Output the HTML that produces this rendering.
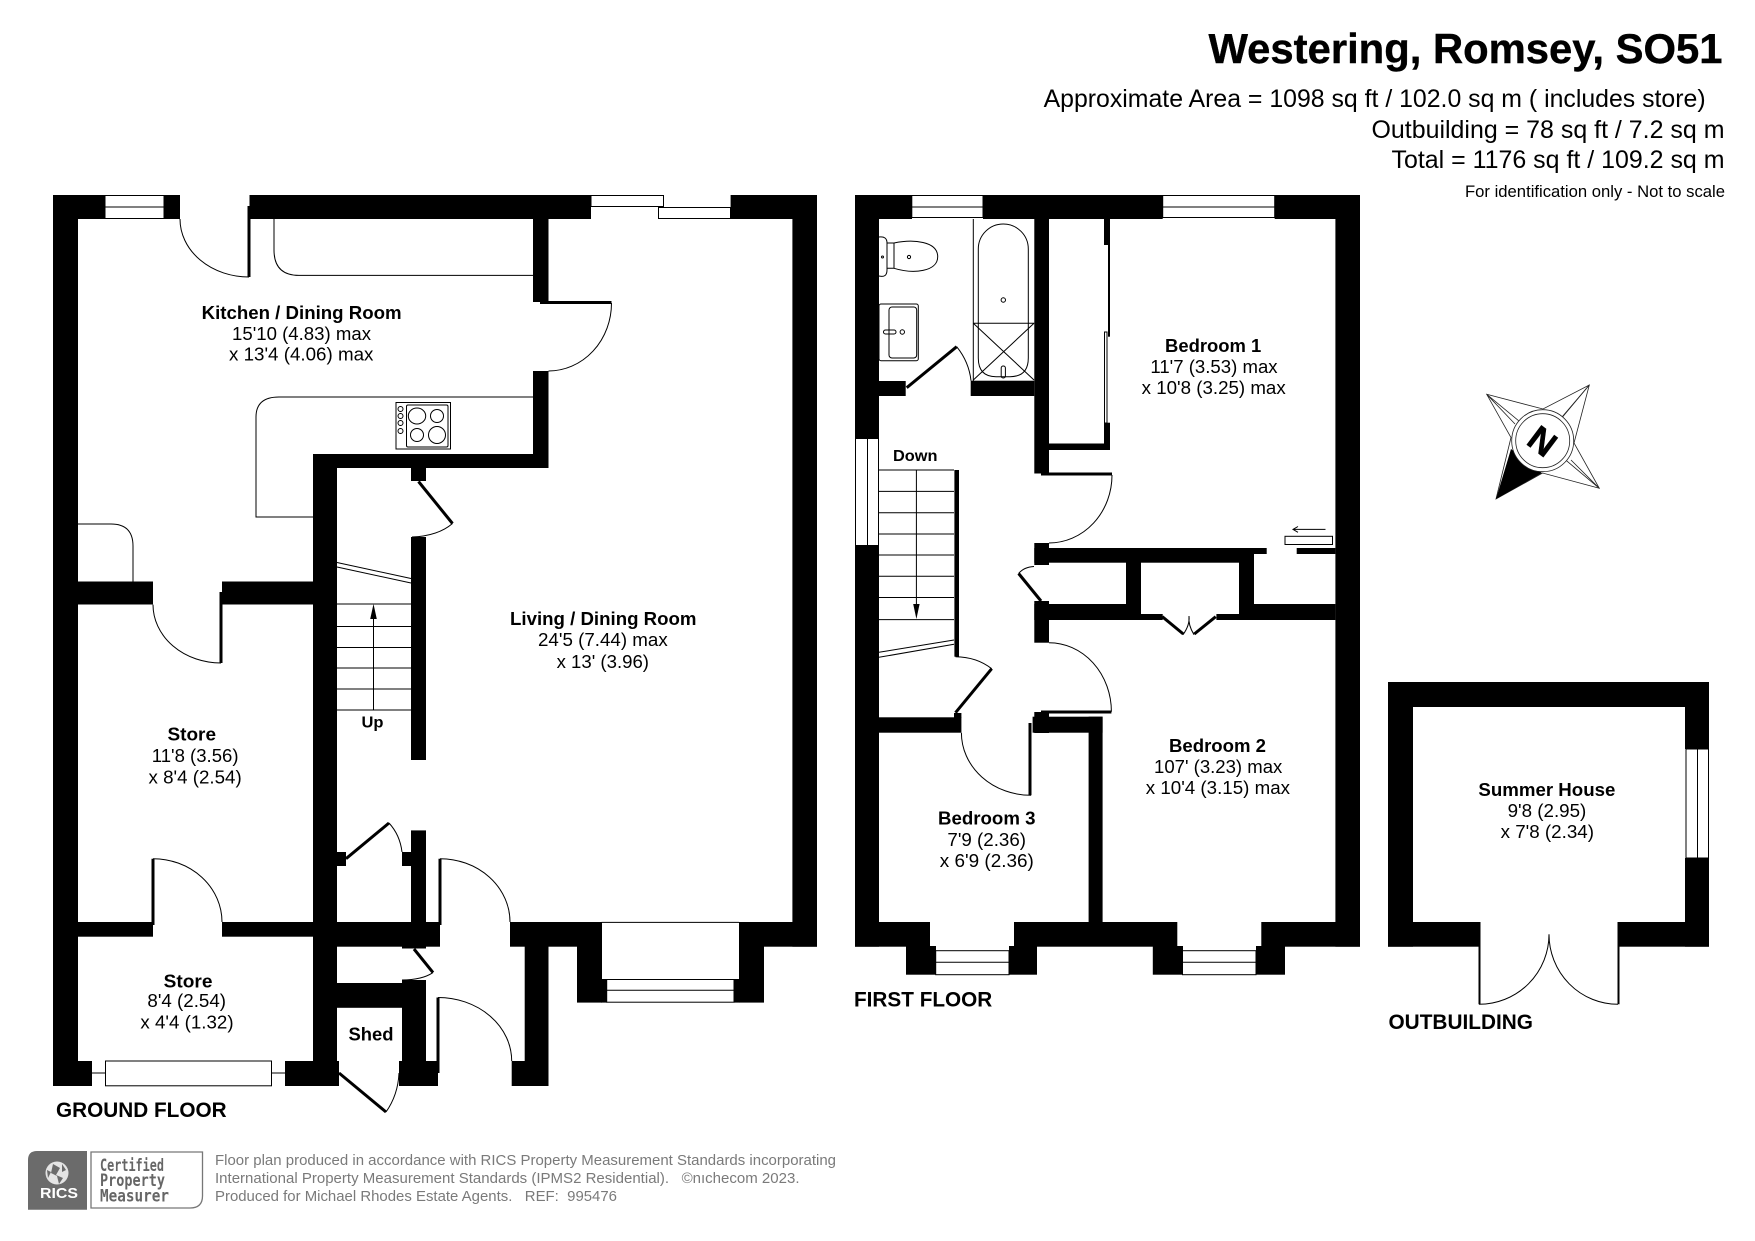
<!DOCTYPE html>
<html><head><meta charset="utf-8"><style>
html,body{margin:0;padding:0;background:#fff}
svg{display:block}
text{font-family:"Liberation Sans",sans-serif;fill:#000}
.b{font-weight:bold;font-size:18px}
.r{font-size:18px}
.t{fill:none;stroke:#000;stroke-width:1}
.l{fill:none;stroke:#000;stroke-width:3}
.g{font-size:14.5px;fill:#7a7a7a}
.c{font-family:"DejaVu Sans Mono","Liberation Mono",monospace;font-weight:bold;font-size:17px;fill:#666}
</style></head><body>
<svg width="1755" height="1241" viewBox="0 0 1755 1241" xmlns="http://www.w3.org/2000/svg">
<rect width="1755" height="1241" fill="#fff"/>
<!-- Header -->
<text x="1208.5" y="63" font-weight="bold" font-size="42" textLength="514" lengthAdjust="spacingAndGlyphs" stroke="#000" stroke-width="0.4">Westering, Romsey, SO51</text>
<text x="1043.6" y="107" font-size="25" textLength="662" lengthAdjust="spacingAndGlyphs">Approximate Area = 1098 sq ft / 102.0 sq m ( includes store)</text>
<text x="1371.5" y="138" font-size="25" textLength="353" lengthAdjust="spacingAndGlyphs">Outbuilding = 78 sq ft / 7.2 sq m</text>
<text x="1391.5" y="168" font-size="25" textLength="333" lengthAdjust="spacingAndGlyphs">Total = 1176 sq ft / 109.2 sq m</text>
<text x="1465" y="197" font-size="17" textLength="260" lengthAdjust="spacingAndGlyphs">For identification only - Not to scale</text>

<!-- GROUND FLOOR walls -->
<g fill="#000">
<rect x="53" y="195" width="25" height="891"/>
<rect x="53" y="195" width="52" height="24"/>
<rect x="164" y="195" width="16" height="24"/>
<rect x="249.5" y="195" width="341.5" height="24"/>
<rect x="730.6" y="195" width="86.4" height="24"/>
<rect x="792.4" y="195" width="24.6" height="751.7"/>
<rect x="533" y="218" width="15.5" height="84"/>
<rect x="533" y="371" width="15.5" height="97"/>
<rect x="313" y="454" width="235.5" height="14"/>
<rect x="313" y="454" width="24" height="632"/>
<rect x="411" y="468" width="15" height="13"/>
<rect x="411" y="537" width="15" height="223"/>
<rect x="411" y="830.4" width="15" height="118"/>
<rect x="402" y="852" width="9" height="14"/>
<rect x="337" y="852" width="9" height="14"/>
<rect x="53" y="581.5" width="100" height="23"/>
<rect x="222" y="581.5" width="91" height="23"/>
<rect x="53" y="922" width="100" height="14.7"/>
<rect x="222" y="922" width="91" height="14.7"/>
<rect x="313" y="922" width="127" height="24.7"/>
<rect x="402" y="946" width="24" height="2.5"/>
<rect x="510" y="922" width="92" height="24.7"/>
<rect x="739" y="922" width="78" height="24.7"/>
<rect x="577" y="946" width="25" height="56.6"/>
<rect x="739" y="946" width="25" height="56.6"/>
<rect x="601" y="979.5" width="5.7" height="23.1"/>
<rect x="734" y="979.5" width="5.4" height="23.1"/>
<rect x="524.7" y="946" width="23.8" height="140"/>
<rect x="511.7" y="1061" width="36.8" height="25"/>
<rect x="337" y="983" width="89" height="24.8"/>
<rect x="402" y="980" width="24" height="4"/>
<rect x="402" y="1007" width="24" height="79"/>
<rect x="399" y="1061" width="39" height="25"/>
<rect x="53" y="1061" width="39" height="25"/>
<rect x="285" y="1061" width="54" height="25"/>
</g>
<g class="t">
<!-- windows -->
<rect x="105" y="195.5" width="59" height="23"/><path d="M105 207H164"/>
<rect x="591" y="195.5" width="72.5" height="11"/>
<rect x="658.5" y="207.5" width="72" height="11"/>
<rect x="606.7" y="979.5" width="127.3" height="22.7"/><path d="M606.7 990.3H734M601.6 979.5H739M601.6 922.4H739"/>
<rect x="105.5" y="1061" width="166" height="24.8"/><path d="M92 1073H105.5M271.5 1073H285"/>
<!-- doors arcs -->
<path d="M180 219A69 58 0 0 0 249 277"/>
<path d="M611.5 303A63 68 0 0 1 548.5 371"/>
<path d="M153 604.6A68 58.4 0 0 0 221 663"/>
<path d="M452.5 523.5Q438 536 412 537"/>
<path d="M153 858.7A69 63.3 0 0 1 222 922"/>
<path d="M389 823Q400 835 402 852"/>
<path d="M440 858.7A70 63.3 0 0 1 510 922"/>
<path d="M438 997.5A73.7 63.5 0 0 1 511.7 1061"/>
<path d="M433 972.6Q422 980 402 980"/>
<path d="M386 1112Q398 1095 399 1073"/>
<!-- worktops -->
<path d="M274 218V250Q274 275.4 299 275.4H533"/>
<path d="M533 397H279Q256 397 256 417V517H313"/>
<path d="M78 524H111Q133 524 133 546V581.5"/>
<!-- hob -->
<rect x="396" y="402.5" width="54.5" height="46.5"/>
<rect x="406.5" y="405" width="41.5" height="42" rx="1.5"/>
<ellipse cx="417" cy="416" rx="8.7" ry="8"/><ellipse cx="437" cy="416" rx="6.5" ry="6.5"/>
<ellipse cx="417" cy="435" rx="6.5" ry="6.5"/><ellipse cx="437" cy="435" rx="8.5" ry="8.5"/>
<circle cx="400.5" cy="409" r="2.5"/><circle cx="400.5" cy="416" r="2.5"/><circle cx="400.5" cy="423" r="2.5"/><circle cx="400.5" cy="431" r="2.5"/>
<!-- stairs -->
<path d="M337 562.5L411 578.5M337 567L411 583"/>
<path d="M337 604H411M337 626.5H411M337 647.5H411M337 668H411M337 689H411M337 710H411M373.5 610V710"/>
</g>
<path d="M373.5 604L370.2 619H376.8Z" fill="#000"/>
<g class="l">
<path d="M249 206V277"/>
<path d="M540 302.5H611.5"/>
<path d="M418.5 481.5L452.5 523.5"/>
<path d="M221 592V663"/>
<path d="M153 858.7V925"/>
<path d="M346 858.7L389 823"/>
<path d="M440 858.7V925"/>
<path d="M438 997.5V1073"/>
<path d="M414 949L433 972.6"/>
<path d="M339 1073L386 1112"/>
</g>
<!-- Ground labels -->
<text class="b" x="201.6" y="319" textLength="200" lengthAdjust="spacingAndGlyphs">Kitchen / Dining Room</text>
<text class="r" x="232" y="340" textLength="139" lengthAdjust="spacingAndGlyphs">15'10 (4.83) max</text>
<text class="r" x="229" y="360.6" textLength="144.4" lengthAdjust="spacingAndGlyphs">x 13'4 (4.06) max</text>
<text class="b" x="510" y="625" textLength="186.5" lengthAdjust="spacingAndGlyphs">Living / Dining Room</text>
<text class="r" x="538" y="646" textLength="129.7" lengthAdjust="spacingAndGlyphs">24'5 (7.44) max</text>
<text class="r" x="556.6" y="668" textLength="92.4" lengthAdjust="spacingAndGlyphs">x 13' (3.96)</text>
<text class="b" x="167.5" y="740.5" textLength="48.5" lengthAdjust="spacingAndGlyphs">Store</text>
<text class="r" x="151.8" y="762" textLength="86.7" lengthAdjust="spacingAndGlyphs">11'8 (3.56)</text>
<text class="r" x="148.5" y="783.3" textLength="93.2" lengthAdjust="spacingAndGlyphs">x 8'4 (2.54)</text>
<text class="b" x="163.7" y="987.6" textLength="48.8" lengthAdjust="spacingAndGlyphs">Store</text>
<text class="r" x="147.4" y="1007" textLength="78.6" lengthAdjust="spacingAndGlyphs">8'4 (2.54)</text>
<text class="r" x="140.4" y="1028.6" textLength="93.2" lengthAdjust="spacingAndGlyphs">x 4'4 (1.32)</text>
<text class="b" x="348.5" y="1040.7" textLength="45" lengthAdjust="spacingAndGlyphs">Shed</text>
<text class="b" x="361.5" y="727.5" style="font-size:16px" textLength="22" lengthAdjust="spacingAndGlyphs">Up</text>
<text font-weight="bold" font-size="21" x="56" y="1117" textLength="170.6" lengthAdjust="spacingAndGlyphs">GROUND FLOOR</text>

<!-- FIRST FLOOR walls -->
<g fill="#000">
<rect x="855" y="195" width="24" height="244"/>
<rect x="855" y="545" width="24" height="401.7"/>
<rect x="855" y="195" width="57" height="24"/>
<rect x="983" y="195" width="179.7" height="24"/>
<rect x="1274.7" y="195" width="85.3" height="24"/>
<rect x="1335.4" y="195" width="24.6" height="751.7"/>
<rect x="1034.3" y="219" width="14.7" height="254.5"/>
<rect x="1049" y="443.5" width="61" height="6.5"/>
<rect x="1104" y="218" width="6" height="27"/>
<rect x="1108" y="245" width="2" height="91.7"/>
<rect x="1104" y="422.7" width="6" height="27"/>
<rect x="1034.3" y="543" width="14.7" height="22"/>
<rect x="1034.3" y="548" width="219.7" height="14.7"/>
<rect x="1254" y="548" width="12.7" height="6"/>
<rect x="1296.7" y="548" width="38.7" height="6"/>
<rect x="1126" y="562" width="15" height="52"/>
<rect x="1239" y="553" width="15" height="67"/>
<rect x="1034.3" y="604" width="106.7" height="16"/>
<rect x="1141" y="614" width="21.7" height="6"/>
<rect x="1254" y="604" width="81.4" height="16"/>
<rect x="1216.4" y="614" width="22.6" height="6"/>
<rect x="1034.3" y="601" width="14.7" height="41.7"/>
<rect x="1034.3" y="712" width="14.7" height="21"/>
<rect x="1032.6" y="716.7" width="70" height="16"/>
<rect x="1088.6" y="716.7" width="14" height="205.3"/>
<rect x="855" y="717.3" width="106.4" height="15.4"/>
<rect x="954" y="713" width="7.4" height="5"/>
<rect x="954.4" y="470" width="4.6" height="186.7"/>
<rect x="879" y="381" width="26.7" height="15"/>
<rect x="970.7" y="380.7" width="63.6" height="15.3"/>
<rect x="855" y="922" width="75" height="24.7"/>
<rect x="1014" y="922" width="163.3" height="24.7"/>
<rect x="1261.3" y="922" width="98.7" height="24.7"/>
<rect x="906" y="946" width="29.7" height="28.7"/>
<rect x="1009" y="946" width="28" height="28.7"/>
<rect x="1152.8" y="946" width="29.7" height="28.7"/>
<rect x="1256" y="946" width="29" height="28.7"/>
<rect x="930" y="946" width="6" height="4.7"/>
<rect x="1009" y="946" width="5" height="4.7"/>
<rect x="1177" y="946" width="6" height="4.7"/>
<rect x="1256" y="946" width="6" height="4.7"/>
<!-- Outbuilding -->
<rect x="1388" y="682" width="321" height="25"/>
<rect x="1388" y="682" width="25" height="264.7"/>
<rect x="1685" y="682" width="24" height="67"/>
<rect x="1685" y="858" width="24" height="88.7"/>
<rect x="1388" y="922" width="91" height="24.7"/>
<rect x="1619" y="922" width="90" height="24.7"/>
</g>
<g class="t">
<rect x="1104.5" y="332" width="2.5" height="91"/>
<rect x="911.8" y="195.5" width="71.2" height="22"/><path d="M911.8 207H983"/>
<rect x="1162.7" y="195.5" width="112" height="22"/><path d="M1162.7 207H1274.7"/>
<path d="M855.5 439V545M867.5 439V545M878.5 439V545"/>
<rect x="935.7" y="950.7" width="73.3" height="24"/><path d="M935.7 962.3H1009"/>
<rect x="1182.5" y="950.7" width="73.5" height="24"/><path d="M1182.5 962.3H1256"/>
<rect x="1686" y="749" width="22.5" height="109"/><path d="M1697.5 749V858"/>
<!-- door arcs -->
<path d="M1112 475A63 68 0 0 1 1049 543"/>
<path d="M1018.6 573.5Q1024 567 1034 566.5"/>
<path d="M1183 634.7Q1190 625 1189 616Q1188 625 1194 634.7"/>
<path d="M1049 642.7A62.4 69 0 0 1 1111.4 711.7"/>
<path d="M961.4 732.7A69.6 62.6 0 0 0 1031 795.3"/>
<path d="M991.7 668.7Q977 657 955.5 656.7"/>
<path d="M956.7 346.7Q969 362 971 380.7"/>
<path d="M1479 1004.3A70 70 0 0 0 1549 934.3A69 70 0 0 0 1618 1004.3"/>
<!-- stairs -->
<path d="M879 470H954M879 491.4H954M879 512.7H954M879 534H954M879 555H954M879 576.3H954M879 597.5H954M879 619.6H954M916.4 470V606"/>
<path d="M879 652.3L954 640M879 657.3L954 644.3"/>
<!-- bath -->
<path d="M973.3 219V381"/>
<path d="M978.3 249A25 25 0 0 1 1028.3 249V358Q1028.3 376.7 1010 376.7H996Q978.3 376.7 978.3 358Z"/>
<path d="M973.3 323.3H1034.3M973.3 323.3L1034 380M1034 323.3L973.3 380"/>
<circle cx="1003.3" cy="300" r="2.2"/>
<rect x="1001.2" y="366" width="4.2" height="12" rx="2"/>
<!-- toilet -->
<path d="M879 237Q887 236 887 243V270Q887 278 879 276"/>
<path d="M887 243H894C913 239 937.7 241 937.7 256.7C937.7 272 913 274 894 268.3H887"/>
<path d="M894 243.3V268.3"/>
<circle cx="909" cy="257" r="1.6"/><circle cx="882.5" cy="257" r="1"/>
<!-- sink -->
<rect x="879" y="304" width="39.3" height="56.7" rx="2"/>
<rect x="889" y="307" width="27.7" height="51" rx="3"/>
<circle cx="902.3" cy="332" r="2.2"/>
<rect x="883.5" y="330" width="12.5" height="4" rx="2"/>
<!-- wardrobe hatch -->
<rect x="1285" y="536.3" width="47.5" height="8.2"/>
<path d="M1293 529.4H1325.5M1298 526.5L1293 529.4L1298 532.3"/>
</g>
<path d="M916.4 619L913.2 604H919.6Z" fill="#000"/>
<g class="l">
<path d="M1041 474H1112"/>
<path d="M1041 601L1018.6 573.5"/>
<path d="M1162.3 616.7L1183.3 634M1215.7 616.7L1194.3 634"/>
<path d="M1041 712H1111.4"/>
<path d="M1030 723V795.3"/>
<path d="M955.5 712.7L991.7 668.7"/>
<path d="M906.7 387.7L956.7 346.7"/>
<path d="M1479.5 922V1004.3M1618.5 922V1004.3" stroke-width="2"/>
</g>
<text class="b" x="1165" y="352" textLength="96.3" lengthAdjust="spacingAndGlyphs">Bedroom 1</text>
<text class="r" x="1150.4" y="373" textLength="127.2" lengthAdjust="spacingAndGlyphs">11'7 (3.53) max</text>
<text class="r" x="1141.7" y="393.8" textLength="144" lengthAdjust="spacingAndGlyphs">x 10'8 (3.25) max</text>
<text class="b" style="font-size:16px" x="893" y="461" textLength="44.5" lengthAdjust="spacingAndGlyphs">Down</text>
<text class="b" x="1169" y="752" textLength="97" lengthAdjust="spacingAndGlyphs">Bedroom 2</text>
<text class="r" x="1154" y="773" textLength="128.3" lengthAdjust="spacingAndGlyphs">107' (3.23) max</text>
<text class="r" x="1145.8" y="794" textLength="144.2" lengthAdjust="spacingAndGlyphs">x 10'4 (3.15) max</text>
<text class="b" x="938" y="824.5" textLength="97.5" lengthAdjust="spacingAndGlyphs">Bedroom 3</text>
<text class="r" x="947.4" y="846" textLength="78.6" lengthAdjust="spacingAndGlyphs">7'9 (2.36)</text>
<text class="r" x="939.8" y="867" textLength="94" lengthAdjust="spacingAndGlyphs">x 6'9 (2.36)</text>
<text class="b" x="1478.4" y="796" textLength="137" lengthAdjust="spacingAndGlyphs">Summer House</text>
<text class="r" x="1507.6" y="817" textLength="78.7" lengthAdjust="spacingAndGlyphs">9'8 (2.95)</text>
<text class="r" x="1500.6" y="838" textLength="93.4" lengthAdjust="spacingAndGlyphs">x 7'8 (2.34)</text>
<text font-weight="bold" font-size="21" x="854" y="1006.5" textLength="138.3" lengthAdjust="spacingAndGlyphs">FIRST FLOOR</text>
<text font-weight="bold" font-size="21" x="1388.5" y="1029" textLength="144.5" lengthAdjust="spacingAndGlyphs">OUTBUILDING</text>

<!-- Compass -->
<g fill="none" stroke="#222" stroke-width="0.8">
<path d="M1486.7 394.3L1543 409L1589.3 385L1574 443L1599.3 488.3L1542.6 473L1496 499L1511 437.5Z" fill="#fff"/>
<path d="M1486.7 394.3L1542.7 440.7M1589.3 385L1542.7 440.7M1599.3 488.3L1542.7 440.7"/>
<path d="M1486.7 394.3L1515 424M1589.3 385L1562 417M1599.3 488.3L1571 460"/>
</g>
<path d="M1496 499L1511 449L1542 473Z" fill="#000"/>
<circle cx="1542.7" cy="440.7" r="31" fill="#fff" stroke="#222" stroke-width="0.8"/>
<circle cx="1542.7" cy="440.7" r="27" fill="none" stroke="#222" stroke-width="0.8"/>
<text x="1542.7" y="440.7" transform="rotate(37 1542.7 440.7)" font-weight="bold" font-size="35" text-anchor="middle" dy="12.7" stroke="#000" stroke-width="0.6">N</text>

<!-- Footer -->
<path d="M28 1160Q28 1151 37 1151H87V1209.7H28Z" fill="#6b6b6b"/>
<g fill="#e4e4e4">
<circle cx="57" cy="1173" r="11.5"/>
</g>
<g fill="#6b6b6b">
<path d="M53 1164L60 1168L56 1175L63 1178L59 1184L57 1176L51 1173Z"/>
<path d="M47 1170L51 1172L48 1178Z"/>
<path d="M62 1164L66 1170L62 1172Z"/>
</g>
<text x="40" y="1198" style="font-family:'Liberation Sans',sans-serif;fill:#fff" font-weight="bold" font-size="15" textLength="38" lengthAdjust="spacingAndGlyphs">RICS</text>
<path d="M91 1152H202.5V1196Q202.5 1208 190 1208H91Z" fill="none" stroke="#777" stroke-width="1.3"/>
<text class="c" x="100" y="1171" textLength="64" lengthAdjust="spacingAndGlyphs">Certified</text>
<text class="c" x="100" y="1186" textLength="65" lengthAdjust="spacingAndGlyphs">Property</text>
<text class="c" x="100" y="1201.5" textLength="69" lengthAdjust="spacingAndGlyphs">Measurer</text>
<text class="g" x="215" y="1165" textLength="621" lengthAdjust="spacingAndGlyphs">Floor plan produced in accordance with RICS Property Measurement Standards incorporating</text>
<text class="g" x="215" y="1183" textLength="584.5" lengthAdjust="spacingAndGlyphs" xml:space="preserve">International Property Measurement Standards (IPMS2 Residential).   ©nıchecom 2023.</text>
<text class="g" x="215" y="1201" textLength="402" lengthAdjust="spacingAndGlyphs" xml:space="preserve">Produced for Michael Rhodes Estate Agents.   REF:  995476</text>
</svg>
</body></html>
